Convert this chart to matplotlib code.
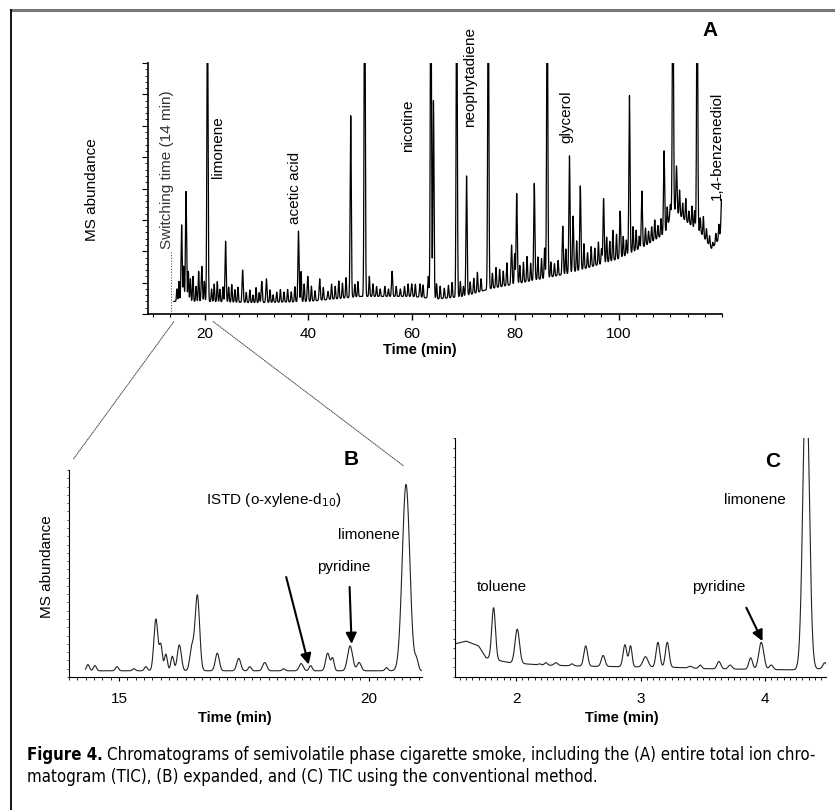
import matplotlib
matplotlib.use("Agg")
import matplotlib.pyplot as plt
import numpy as np
from matplotlib.lines import Line2D
from matplotlib.patches import ConnectionPatch
from matplotlib.ticker import MultipleLocator, NullFormatter

plt.rcParams['font.family'] = ['Liberation Sans', 'DejaVu Sans']

# ---- panel A: entire TIC (time in min, height as fraction of axis) ----
a_base_t = [14, 20, 30, 40, 50, 60, 65, 70, 75, 80, 90, 100, 105, 109, 110.5, 113, 116, 118, 119.5, 120]
a_base_h = [0.05, 0.05, 0.045, 0.05, 0.07, 0.07, 0.06, 0.07, 0.10, 0.12, 0.16, 0.22, 0.27, 0.32, 0.42, 0.37, 0.32, 0.26, 0.30, 0.37]

# major peaks: retention time, apex height (absolute)
a_peak_t = [15.5, 16.35, 19.4, 20.5, 24.0, 27.3, 31.0, 31.9, 38.1, 39.9, 42.2, 43.8, 48.2, 50.9,
            56.2, 60.0, 61.6, 63.2, 63.7, 64.2, 68.7, 70.6, 74.8, 79.3, 80.3, 83.7, 86.2, 89.2,
            90.5, 91.2, 92.6, 97.1, 100.3, 102.1, 104.5, 108.8, 110.5, 111.2, 115.2]
a_peak_h = [0.355, 0.49, 0.19, 1.3, 0.29, 0.175, 0.13, 0.14, 0.33, 0.15, 0.14, 0.09, 0.79, 1.5,
            0.17, 0.12, 0.12, 0.15, 1.5, 0.85, 1.4, 0.55, 1.4, 0.275, 0.48, 0.52, 1.4, 0.35,
            0.63, 0.39, 0.51, 0.46, 0.41, 0.87, 0.49, 0.65, 1.4, 0.59, 1.4]

# small peaks: retention time, height above baseline
a_small_t = [14.6, 15.0, 15.9, 16.8, 17.2, 17.7, 18.3, 18.8, 19.9, 21.3, 21.8, 22.4, 22.9, 23.5,
             24.6, 25.2, 25.8, 26.4, 28.0, 28.7, 29.3, 29.9, 30.5, 32.6, 33.2, 33.9, 34.6, 35.3,
             36.0, 36.7, 37.4, 38.6, 39.2, 40.6, 41.3, 42.9, 44.5, 45.2, 45.9, 46.6, 47.3, 49.0,
             49.6, 51.8, 52.5, 53.2, 53.9, 54.8, 55.5, 57.0, 57.8, 58.6, 59.3, 60.7, 62.2, 64.8,
             65.5, 66.3, 67.1, 67.8, 69.4, 70.0, 71.3, 72.0, 72.7, 73.4, 75.6, 76.3, 77.0, 77.7,
             78.4, 79.9, 80.9, 81.6, 82.3, 83.0, 84.4, 85.1, 85.7, 86.9, 87.6, 88.3, 89.8, 91.9,
             93.3, 94.0, 94.7, 95.4, 96.1, 96.7, 97.7, 98.3, 98.9, 99.6, 100.9, 101.5, 102.8, 103.4,
             104.0, 105.2, 105.8, 106.4, 107.0, 107.6, 108.2, 109.4, 110.0, 111.8, 112.4, 113.0,
             113.6, 114.2, 114.7, 115.8, 116.4, 117.0, 117.6, 118.2, 118.8, 119.4, 119.9]
a_small_h = [0.05, 0.08, 0.14, 0.12, 0.09, 0.10, 0.06, 0.12, 0.08, 0.05, 0.07, 0.08, 0.05, 0.06,
             0.06, 0.07, 0.05, 0.06, 0.04, 0.05, 0.03, 0.06, 0.04, 0.05, 0.03, 0.04, 0.05, 0.04,
             0.05, 0.04, 0.06, 0.12, 0.07, 0.06, 0.04, 0.05, 0.06, 0.05, 0.07, 0.06, 0.08, 0.05,
             0.06, 0.08, 0.05, 0.04, 0.03, 0.04, 0.03, 0.04, 0.03, 0.04, 0.05, 0.05, 0.05, 0.06,
             0.05, 0.04, 0.05, 0.06, 0.06, 0.04, 0.05, 0.06, 0.08, 0.05, 0.06, 0.08, 0.07, 0.06,
             0.09, 0.12, 0.07, 0.08, 0.10, 0.07, 0.09, 0.08, 0.12, 0.06, 0.05, 0.06, 0.10, 0.12,
             0.10, 0.06, 0.08, 0.07, 0.09, 0.06, 0.10, 0.08, 0.12, 0.10, 0.08, 0.06, 0.10, 0.08,
             0.05, 0.07, 0.05, 0.06, 0.08, 0.05, 0.07, 0.08, 0.05, 0.10, 0.06, 0.09,
             0.05, 0.08, 0.07, 0.06, 0.08, 0.05, 0.04, 0.02, 0.04, 0.06, 0.10]

a_labels = ['limonene', 'acetic acid', 'nicotine', 'neophytadiene', 'glycerol', '1,4-benzenediol']
a_label_t = [22.5, 37.4, 59.3, 71.3, 90.0, 119.1]
a_label_h = [0.54, 0.36, 0.645, 0.745, 0.68, 0.454]

# ---- panel B: expanded 14-21 min ----
b_base_t = [14.3, 21.1]
b_base_h = [0.03, 0.03]
b_peak_t = [14.38, 14.52, 14.96, 15.3, 15.54, 15.74, 15.84, 15.94, 16.07, 16.21, 16.46, 16.57,
            16.97, 17.40, 17.62, 17.92, 18.3, 18.65, 18.84, 19.18, 19.28, 19.63, 19.81, 20.36,
            20.75, 20.96]
b_peak_h = [0.06, 0.055, 0.05, 0.04, 0.05, 0.28, 0.15, 0.11, 0.10, 0.155, 0.14, 0.395,
            0.115, 0.09, 0.05, 0.07, 0.04, 0.065, 0.055, 0.115, 0.09, 0.15, 0.07, 0.045,
            0.93, 0.08]
b_peak_w = [0.03, 0.03, 0.03, 0.03, 0.03, 0.04, 0.03, 0.03, 0.03, 0.04, 0.04, 0.045,
            0.04, 0.04, 0.03, 0.04, 0.03, 0.04, 0.03, 0.04, 0.03, 0.05, 0.04, 0.03,
            0.075, 0.035]

# ---- panel C: conventional method ----
c_base_t = [1.52, 1.6, 1.7, 1.76, 1.85, 1.95, 2.2, 2.6, 3.3, 3.5, 4.2, 4.49]
c_base_h = [0.14, 0.15, 0.13, 0.08, 0.07, 0.06, 0.05, 0.045, 0.04, 0.035, 0.03, 0.035]
c_peak_t = [1.82, 2.01, 2.19, 2.24, 2.32, 2.45, 2.56, 2.70, 2.875, 2.92, 3.04, 3.14, 3.215,
            3.40, 3.48, 3.63, 3.72, 3.885, 3.97, 4.05, 4.33, 4.48]
c_peak_h = [0.29, 0.20, 0.055, 0.06, 0.06, 0.055, 0.13, 0.09, 0.135, 0.13, 0.085, 0.145, 0.145,
            0.045, 0.05, 0.065, 0.05, 0.08, 0.145, 0.05, 1.3, 0.06]
c_peak_w = [0.015, 0.018, 0.012, 0.012, 0.015, 0.012, 0.015, 0.015, 0.015, 0.012, 0.02, 0.015, 0.015,
            0.015, 0.012, 0.015, 0.015, 0.015, 0.02, 0.015, 0.025, 0.015]


def trace(t, base_t, base_h, pk_t, pk_h, pk_w, absolute=True):
    base = np.interp(t, base_t, base_h)
    y = base.copy()
    for p, h, w in zip(pk_t, pk_h, pk_w):
        amp = h - np.interp(p, base_t, base_h) if absolute else h
        y += amp * np.exp(-0.5 * ((t - p) / w) ** 2)
    return y


W, H = 835, 810


def fx(px):
    return px / W


def fy(py):
    return 1 - py / H


def arrow(ax, tip, start):
    ax.annotate('', xy=tip, xytext=start,
                arrowprops=dict(arrowstyle='-|>', color='black', lw=1.5, mutation_scale=16,
                                shrinkA=0, shrinkB=0))


fig = plt.figure(figsize=(W / 100, H / 100), dpi=100)

# frame
fig.add_artist(Line2D([fx(11), 1], [fy(10), fy(10)], color='#777777', lw=2.2))
fig.add_artist(Line2D([fx(11), fx(11)], [fy(10), 0], color='black', lw=1.3))

# ---- A ----
axA = fig.add_axes([fx(148), fy(314), (722 - 148) / W, (314 - 63) / H])
tA = np.arange(14, 120, 0.02)
yA = trace(tA, a_base_t, a_base_h, a_peak_t, a_peak_h, [0.11] * len(a_peak_t))
yA += trace(tA, [14, 120], [0, 0], a_small_t, a_small_h, [0.09] * len(a_small_t), absolute=False)
axA.plot(tA, yA, color='black', lw=0.9)
axA.set_xlim(9, 120)
axA.set_ylim(0, 1)
axA.vlines(13.5, 0, 0.25, color='#555555', lw=0.8, linestyles=(0, (1, 1.5)))
axA.text(12.7, 0.26, 'Switching time (14 min)', rotation=90, ha='center', va='bottom',
         fontsize=11, color='#333333')
for lab, t, h in zip(a_labels, a_label_t, a_label_h):
    axA.text(t, h, lab, rotation=90, ha='center', va='bottom', fontsize=11, clip_on=False)
axA.text(117.7, 1.13, 'A', ha='center', va='center', fontsize=15, fontweight='bold')
axA.set_xticks([20, 40, 60, 80, 100])
axA.xaxis.set_minor_locator(MultipleLocator(20 / 6))
axA.yaxis.set_major_locator(MultipleLocator(0.125))
axA.yaxis.set_minor_locator(MultipleLocator(0.025))
axA.yaxis.set_major_formatter(NullFormatter())
axA.tick_params(axis='x', which='major', length=4, width=1, labelsize=11, pad=5)
axA.tick_params(axis='x', which='minor', length=2.5, width=0.8)
axA.tick_params(axis='y', which='major', length=4, width=0.8)
axA.tick_params(axis='y', which='minor', length=2, width=0.6)
for s in ['top', 'right']:
    axA.spines[s].set_visible(False)
axA.spines['left'].set_linewidth(1.2)
axA.spines['bottom'].set_linewidth(1.2)
fig.text(fx(420), fy(350), 'Time (min)', ha='center', va='center', fontsize=10.5, fontweight='bold')
fig.text(fx(92), fy(190), 'MS abundance', rotation=90, ha='center', va='center', fontsize=11)

# ---- B ----
axB = fig.add_axes([fx(69), fy(677), (422 - 69) / W, (677 - 470) / H])
tB = np.arange(14.33, 21.08, 0.005)
yB = trace(tB, b_base_t, b_base_h, b_peak_t, b_peak_h, b_peak_w)
axB.plot(tB, yB, color='#222222', lw=0.8)
axB.set_xlim(14, 21.07)
axB.set_ylim(0, 1)
axB.set_xticks([15, 20])
axB.xaxis.set_minor_locator(MultipleLocator(1 / 6))
axB.yaxis.set_major_locator(MultipleLocator(0.2))
axB.yaxis.set_minor_locator(MultipleLocator(0.04))
axB.yaxis.set_major_formatter(NullFormatter())
axB.tick_params(axis='x', which='major', length=3, width=0.8, labelsize=11, pad=8)
axB.tick_params(axis='x', which='minor', length=2, width=0.6)
axB.tick_params(axis='y', which='both', length=1.5, width=0.5)
for s in ['top', 'right']:
    axB.spines[s].set_visible(False)
axB.text(19.66, 1.05, 'B', ha='center', va='center', fontsize=15, fontweight='bold', clip_on=False)
axB.text(18.1, 0.855, 'ISTD (o-xylene-d$_{10}$)', ha='center', va='center', fontsize=11)
arrow(axB, (18.8, 0.06), (18.35, 0.483))
axB.text(20.0, 0.686, 'limonene', ha='center', va='center', fontsize=11)
axB.text(19.5, 0.53, 'pyridine', ha='center', va='center', fontsize=11)
arrow(axB, (19.66, 0.16), (19.62, 0.435))
fig.text(fx(235), fy(718), 'Time (min)', ha='center', va='center', fontsize=10.5, fontweight='bold')
fig.text(fx(47), fy(567), 'MS abundance', rotation=90, ha='center', va='center', fontsize=11)

# zoom connectors A -> B
for ta, tb, hb in [(14, 14.08, 1.05), (21.6, 20.7, 1.02)]:
    con = ConnectionPatch(xyA=(ta, -0.03), coordsA=axA.transData, xyB=(tb, hb),
                          coordsB=axB.transData, color='#444444', lw=0.7, linestyle=(0, (1, 1.2)))
    fig.add_artist(con)

# ---- C ----
axC = fig.add_axes([fx(455), fy(677), (826 - 455) / W, (677 - 438) / H])
tC = np.arange(1.52, 4.495, 0.002)
yC = trace(tC, c_base_t, c_base_h, c_peak_t, c_peak_h, c_peak_w)
axC.plot(tC, yC, color='#222222', lw=0.8)
axC.set_xlim(1.51, 4.49)
axC.set_ylim(0, 1)
axC.set_xticks([2, 3, 4])
axC.xaxis.set_minor_locator(MultipleLocator(0.05))
axC.yaxis.set_major_locator(MultipleLocator(0.2))
axC.yaxis.set_minor_locator(MultipleLocator(0.04))
axC.yaxis.set_major_formatter(NullFormatter())
axC.tick_params(axis='x', which='major', length=3, width=0.8, labelsize=11, pad=8)
axC.tick_params(axis='x', which='minor', length=2, width=0.6)
axC.tick_params(axis='y', which='both', length=1.5, width=0.5)
for s in ['top', 'right']:
    axC.spines[s].set_visible(False)
axC.text(4.06, 0.90, 'C', ha='center', va='center', fontsize=15, fontweight='bold')
axC.text(3.92, 0.74, 'limonene', ha='center', va='center', fontsize=11)
axC.text(1.89, 0.377, 'toluene', ha='center', va='center', fontsize=11)
axC.text(3.63, 0.377, 'pyridine', ha='center', va='center', fontsize=11)
arrow(axC, (3.98, 0.15), (3.85, 0.29))
fig.text(fx(622), fy(718), 'Time (min)', ha='center', va='center', fontsize=10.5, fontweight='bold')

# ---- caption (condensed face if available, size fitted to the line width) ----
cap1 = 'Chromatograms of semivolatile phase cigarette smoke, including the (A) entire total ion chro-'
cap2 = 'matogram (TIC), (B) expanded, and (C) TIC using the conventional method.'
cap_kw = dict(family=['DejaVu Sans'], stretch='condensed')
fs = 12.5
t1 = fig.text(fx(27), fy(755), 'Figure 4.', ha='left', va='center', fontsize=fs,
              fontweight='bold', **cap_kw)
t2 = fig.text(0, fy(755), cap1, ha='left', va='center', fontsize=fs, **cap_kw)
t3 = fig.text(fx(27), fy(777), cap2, ha='left', va='center', fontsize=fs, **cap_kw)
r = fig.canvas.get_renderer()
w_total = t1.get_window_extent(r).width + 4 + t2.get_window_extent(r).width
scale = min(1.0, (820 - 27) / w_total)
for t in (t1, t2, t3):
    t.set_fontsize(fs * scale)
t2.set_x((27 + t1.get_window_extent(r).width + 4 * scale) / W)

fig.savefig('out.png', dpi=100)
